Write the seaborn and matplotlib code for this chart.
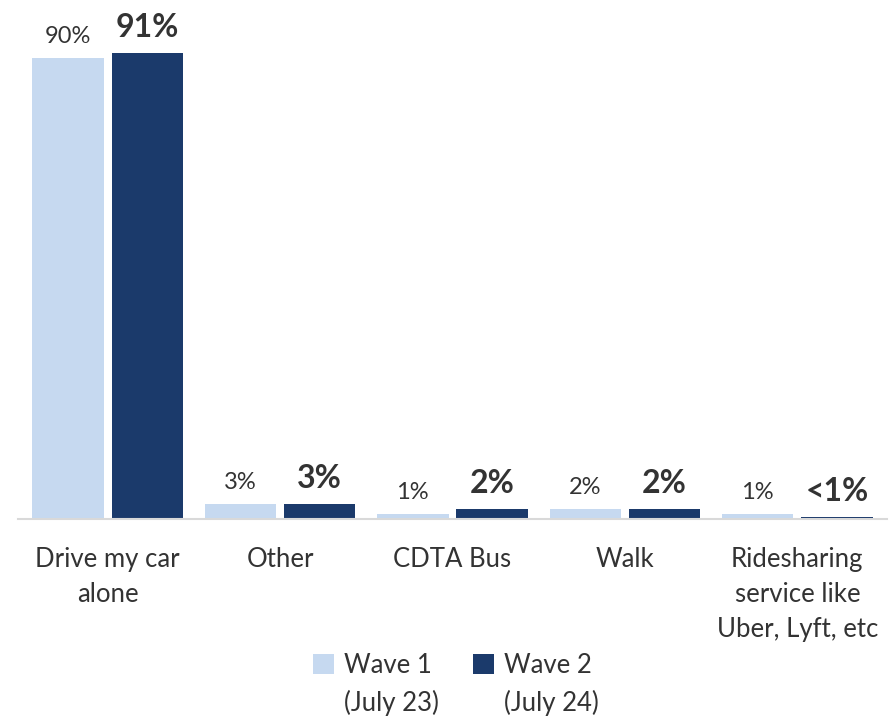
import matplotlib
matplotlib.use("Agg")
import matplotlib.pyplot as plt
import seaborn as sns
import pandas as pd

categories = ["Drive my car\nalone", "Other", "CDTA Bus", "Walk",
              "Ridesharing\nservice like\nUber, Lyft, etc"]
wave1 = [90, 3, 1, 2, 1]
wave2 = [91, 3, 2, 2, 0.4]
wave1_labels = ["90%", "3%", "1%", "2%", "1%"]
wave2_labels = ["91%", "3%", "2%", "2%", "<1%"]
series = ["Wave 1", "Wave 2"]
series_dates = ["(July 23)", "(July 24)"]
colors = ["#C6D9F0", "#1B3A6B"]

sns.set_theme(style="white")
plt.rcParams["font.family"] = ["Lato", "DejaVu Sans"]
text_color = "#333333"

df = pd.DataFrame({
    "category": categories * 2,
    "value": wave1 + wave2,
    "series": [series[0]] * len(categories) + [series[1]] * len(categories),
})

fig = plt.figure(figsize=(8.96, 7.2), dpi=100)
ax = fig.add_axes([0.02, 201 / 720, 0.97, 499 / 720])

sns.barplot(data=df, x="category", y="value", hue="series", order=categories,
            hue_order=series, palette=colors, width=0.92, gap=0.1,
            saturation=1, ax=ax, errorbar=None, linewidth=0)

ax.set_ylim(0, 97.5)
ax.set_xlim(-0.52, len(categories) - 0.48)
ax.set_xlabel("")
ax.set_ylabel("")
ax.set_yticks([])
for side in ["top", "right", "left"]:
    ax.spines[side].set_visible(False)
ax.spines["bottom"].set_color("#D9D9D9")
ax.spines["bottom"].set_linewidth(1.5)
ax.tick_params(axis="x", length=0, pad=20, labelsize=18.5, colors=text_color)
for lbl in ax.get_xticklabels():
    lbl.set_linespacing(1.5)
    lbl.set_verticalalignment("top")

# value labels above each bar
for container, labels, bold in zip(ax.containers, [wave1_labels, wave2_labels], [False, True]):
    ax.bar_label(container, labels=labels, padding=8,
                 fontsize=23 if bold else 17,
                 fontweight="bold" if bold else "normal",
                 color=text_color)

leg = ax.legend(loc="upper center", bbox_to_anchor=(0.5, -0.222), ncol=2,
                frameon=False, fontsize=18.5, handlelength=0.8, handleheight=0.8,
                handletextpad=0.4, columnspacing=1.6)
for t in leg.get_texts():
    t.set_color(text_color)

# second line of each legend entry, placed under the series name
fig.canvas.draw()
inv = fig.transFigure.inverted()
for t, date in zip(leg.get_texts(), series_dates):
    bb = t.get_window_extent()
    x0, y0 = inv.transform((bb.x0, bb.y0))
    fig.text(x0, y0 - 0.016, date, ha="left", va="top", fontsize=18.5, color=text_color)

fig.savefig("out.png", dpi=100)
